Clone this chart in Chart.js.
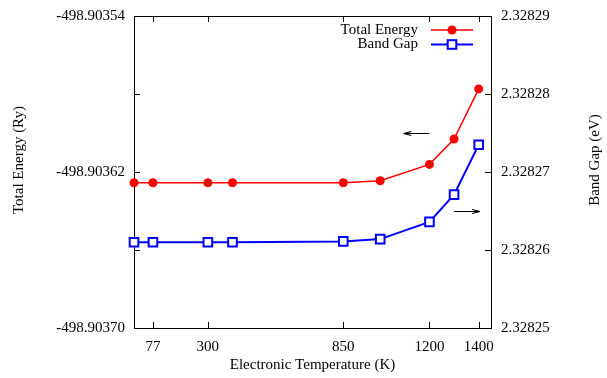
<!doctype html>
<html lang="en">
<head>
  <meta charset="utf-8" />
  <title>Total Energy and Band Gap vs Electronic Temperature</title>
  <script src="https://cdn.jsdelivr.net/npm/chart.js"></script>
  <style>
    html, body { margin: 0; padding: 0; background: #fff; overflow: hidden; }
    canvas { display: block; }
  </style>
</head>
<body>
  <canvas id="chart" width="607" height="378"></canvas>
  <script>
    // data
    const temps = [0, 77, 300, 400, 850, 1000, 1200, 1300, 1400];
    const totalEnergy = [-498.9036255, -498.9036255, -498.9036255, -498.9036255, -498.9036255, -498.9036245, -498.9036161, -498.9036031, -498.9035774];
    const bandGap = [2.328261, 2.328261, 2.328261, 2.328261, 2.3282611, 2.3282614, 2.3282636, 2.3282671, 2.3282735];

    const xTicks = [77, 300, 850, 1200, 1400];
    const energyTicks = [-498.90370, -498.90366, -498.90362, -498.90358, -498.90354];
    const energyLabeled = [-498.90370, -498.90362, -498.90354];
    const gapTicks = [2.32825, 2.32826, 2.32827, 2.32828, 2.32829];

    const seriesNames = ['Total Energy', 'Band Gap'];
    const FONT = '"Liberation Serif", "DejaVu Serif", serif';

    const frameAndTicks = {
      id: 'frameAndTicks',
      beforeDatasetsDraw(chart) {
        const { ctx, chartArea: a, scales } = chart;
        ctx.save();
        ctx.strokeStyle = '#000';
        ctx.lineWidth = 1;
        ctx.strokeRect(a.left + 0.5, a.top + 0.5, a.right - a.left, a.bottom - a.top);
        ctx.beginPath();
        energyTicks.forEach(v => {
          const y = Math.round(scales.y.getPixelForValue(v)) + 0.5;
          ctx.moveTo(a.left, y); ctx.lineTo(a.left + 6, y);
        });
        gapTicks.forEach(v => {
          const y = Math.round(scales.y2.getPixelForValue(v)) + 0.5;
          ctx.moveTo(a.right, y); ctx.lineTo(a.right - 6, y);
        });
        xTicks.forEach(v => {
          const x = Math.round(scales.x.getPixelForValue(v)) + 0.5;
          ctx.moveTo(x, a.bottom); ctx.lineTo(x, a.bottom - 6);
          ctx.moveTo(x, a.top); ctx.lineTo(x, a.top + 6);
        });
        ctx.stroke();
        ctx.restore();
      },
      afterDraw(chart) {
        const { ctx, chartArea: a, scales } = chart;
        ctx.save();
        ctx.fillStyle = '#000';
        ctx.font = '15px ' + FONT;

        // axis titles
        ctx.textAlign = 'center';
        ctx.textBaseline = 'middle';
        ctx.fillText('Electronic Temperature (K)', (a.left + a.right) / 2, 365);
        ctx.save();
        ctx.translate(19, 160);
        ctx.rotate(-Math.PI / 2);
        ctx.fillText('Total Energy (Ry)', 0, 0);
        ctx.restore();
        ctx.save();
        ctx.translate(595, 160);
        ctx.rotate(-Math.PI / 2);
        ctx.fillText('Band Gap (eV)', 0, 0);
        ctx.restore();

        // arrows pointing to each axis
        const arrow = (x1, y1, x2, y2) => {
          const ang = Math.atan2(y2 - y1, x2 - x1);
          ctx.beginPath();
          ctx.moveTo(x1, y1); ctx.lineTo(x2, y2);
          ctx.moveTo(x2, y2);
          ctx.lineTo(x2 - 8 * Math.cos(ang - 0.25), y2 - 8 * Math.sin(ang - 0.25));
          ctx.moveTo(x2, y2);
          ctx.lineTo(x2 - 8 * Math.cos(ang + 0.25), y2 - 8 * Math.sin(ang + 0.25));
          ctx.stroke();
        };
        ctx.strokeStyle = '#000';
        ctx.lineWidth = 1.2;
        const ya = Math.round(scales.y.getPixelForValue(-498.90360)) + 0.5;
        arrow(scales.x.getPixelForValue(1200), ya, scales.x.getPixelForValue(1095), ya);
        const yb = Math.round(scales.y2.getPixelForValue(2.328265)) + 0.5;
        arrow(scales.x.getPixelForValue(1300), yb, scales.x.getPixelForValue(1405), yb);

        // legend, gnuplot style: text then sample
        const rows = [
          { label: seriesNames[0], color: '#ff0000', y: 30, marker: 'circle' },
          { label: seriesNames[1], color: '#0000ff', y: 44.5, marker: 'square' }
        ];
        rows.forEach(r => {
          ctx.fillStyle = '#000';
          ctx.textAlign = 'right';
          ctx.fillText(r.label, 418, r.y);
          ctx.strokeStyle = r.color;
          ctx.lineWidth = r.marker === 'circle' ? 1.5 : 2;
          ctx.beginPath();
          ctx.moveTo(431, r.y); ctx.lineTo(473, r.y);
          ctx.stroke();
          if (r.marker === 'circle') {
            ctx.fillStyle = r.color;
            ctx.beginPath();
            ctx.arc(452, r.y, 4.5, 0, Math.PI * 2);
            ctx.fill();
          } else {
            ctx.fillStyle = '#fff';
            ctx.fillRect(447.7, r.y - 4.3, 8.6, 8.6);
            ctx.strokeRect(447.7, r.y - 4.3, 8.6, 8.6);
          }
        });
        ctx.restore();
      }
    };

    Chart.defaults.font.family = FONT;
    Chart.defaults.font.size = 15;
    Chart.defaults.color = '#000';

    // y axes: fixed widths, no label overhang so the plot box lands where the reference has it
    const fixY = w => s => { s.width = w; s.paddingTop = 0; s.paddingBottom = 0; };

    new Chart(document.getElementById('chart'), {
      type: 'line',
      data: {
        datasets: [
          {
            label: seriesNames[0],
            data: temps.map((t, i) => ({ x: t, y: totalEnergy[i] })),
            yAxisID: 'y',
            borderColor: '#ff0000',
            backgroundColor: '#ff0000',
            borderWidth: 1.5,
            pointStyle: 'circle',
            pointRadius: 4.5,
            pointBorderWidth: 0,
            tension: 0,
            clip: false
          },
          {
            label: seriesNames[1],
            data: temps.map((t, i) => ({ x: t, y: bandGap[i] })),
            yAxisID: 'y2',
            borderColor: '#0000ff',
            backgroundColor: '#ffffff',
            borderWidth: 2,
            pointStyle: 'rect',
            pointRadius: 6.1,
            pointBorderWidth: 2,
            tension: 0,
            clip: false
          }
        ]
      },
      options: {
        responsive: false,
        maintainAspectRatio: false,
        animation: false,
        devicePixelRatio: 1,
        layout: { padding: { top: 16, left: 0, right: 0, bottom: 0 } },
        plugins: { legend: { display: false }, tooltip: { enabled: false } },
        scales: {
          x: {
            type: 'linear',
            min: 0,
            max: 1450,
            grid: { display: false, drawTicks: false },
            border: { display: false },
            ticks: { padding: 10, maxRotation: 0, autoSkip: false, callback: v => String(v) },
            afterBuildTicks: s => { s.ticks = xTicks.map(v => ({ value: v })); },
            afterFit: s => { s.height = 50; s.paddingLeft = 0; s.paddingRight = 0; }
          },
          y: {
            position: 'left',
            min: -498.90370,
            max: -498.90354,
            grid: { display: false, drawTicks: false },
            border: { display: false },
            ticks: {
              padding: 9,
              autoSkip: false,
              callback: v => energyLabeled.some(l => Math.abs(l - v) < 1e-8) ? v.toFixed(5) : ''
            },
            afterBuildTicks: s => { s.ticks = energyTicks.map(v => ({ value: v })); },
            afterFit: fixY(134)
          },
          y2: {
            position: 'right',
            min: 2.32825,
            max: 2.32829,
            grid: { display: false, drawTicks: false },
            border: { display: false },
            ticks: { padding: 10, autoSkip: false, callback: v => v.toFixed(5) },
            afterBuildTicks: s => { s.ticks = gapTicks.map(v => ({ value: v })); },
            afterFit: fixY(116)
          }
        }
      },
      plugins: [frameAndTicks]
    });
  </script>
</body>
</html>
